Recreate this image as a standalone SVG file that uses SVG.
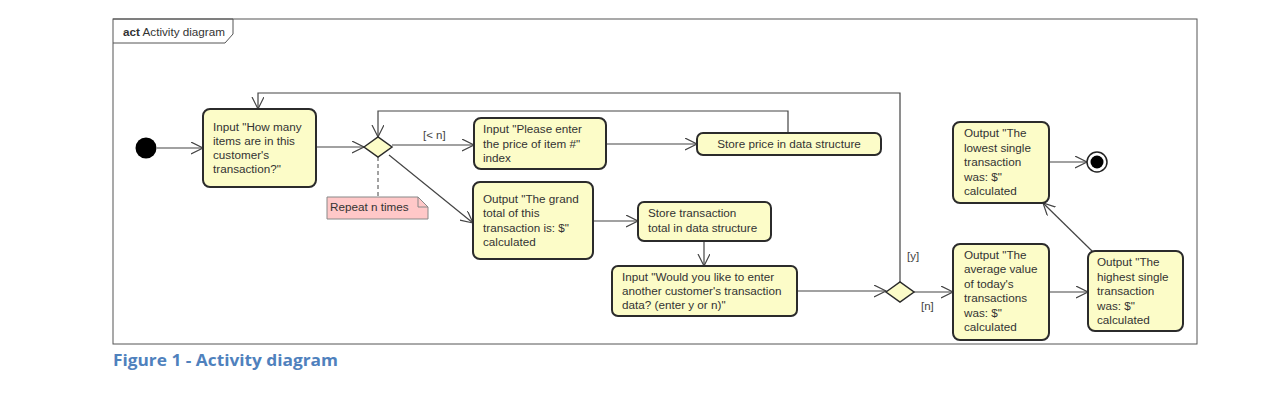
<svg xmlns="http://www.w3.org/2000/svg" width="1287" height="407" viewBox="0 0 1287 407">
<defs>
<style>
.node{fill:#fcfcc8;stroke:#2b2b2b;stroke-width:2}
.t{font-family:"Liberation Sans",Arial,sans-serif;font-size:11.7px;fill:#333}
.c{fill:none;stroke:#444;stroke-width:1.2}
.lbl{font-family:"Liberation Sans",Arial,sans-serif;font-size:11.5px;fill:#444}
</style>
<marker id="arr" markerUnits="userSpaceOnUse" markerWidth="14" markerHeight="14" refX="12" refY="6" orient="auto">
<path d="M0,0 L12,6 L0,12" fill="none" stroke="#444" stroke-width="1.2"/>
</marker>
</defs>
<rect x="0" y="0" width="1287" height="407" fill="#fff"/>
<g id="frame">
<rect x="113" y="19" width="1084" height="325" fill="none" stroke="#555" stroke-width="1"/>
<path d="M113,19 L233,19 L233,34 L225,43 L113,43" fill="none" stroke="#555" stroke-width="1"/>
<text x="123" y="36" class="t" fill="#222"><tspan font-weight="bold">act</tspan> Activity diagram</text>
</g>
<g id="connectors">
<line class="c" x1="157" y1="148" x2="203" y2="148" marker-end="url(#arr)"/>
<line class="c" x1="316" y1="147" x2="364" y2="147" marker-end="url(#arr)"/>
<line class="c" x1="392" y1="145" x2="474" y2="145" marker-end="url(#arr)"/>
<line class="c" x1="389" y1="155" x2="473" y2="223" marker-end="url(#arr)"/>
<line class="c" x1="606" y1="144" x2="697" y2="144" marker-end="url(#arr)"/>
<polyline class="c" points="788,133 788,111 378,111 378,137" marker-end="url(#arr)"/>
<line x1="378" y1="157" x2="378" y2="197" stroke="#444" stroke-width="1" stroke-dasharray="4,3"/>
<line class="c" x1="593" y1="221" x2="638" y2="221" marker-end="url(#arr)"/>
<line class="c" x1="704" y1="241" x2="704" y2="266" marker-end="url(#arr)"/>
<line class="c" x1="797" y1="291" x2="886" y2="291" marker-end="url(#arr)"/>
<polyline class="c" points="900,282 900,93 258,93 258,109" marker-end="url(#arr)"/>
<line class="c" x1="914" y1="292" x2="953" y2="292" marker-end="url(#arr)"/>
<line class="c" x1="1049" y1="292" x2="1088" y2="292" marker-end="url(#arr)"/>
<line class="c" x1="1092" y1="251" x2="1043" y2="203" marker-end="url(#arr)"/>
<line class="c" x1="1049" y1="162" x2="1087" y2="162" marker-end="url(#arr)"/>
<text class="lbl" x="423" y="139">[&lt; n]</text>
<text class="lbl" x="907" y="260" font-size="10">[y]</text>
<text class="lbl" x="921" y="310">[n]</text>
</g>
<g id="start"><circle cx="146" cy="148" r="10.5" fill="#000"/></g>
<g id="n1">
<rect class="node" x="203" y="109" width="113" height="78" rx="7"/>
<text class="t" x="213" y="131">Input "How many</text>
<text class="t" x="213" y="145">items are in this</text>
<text class="t" x="213" y="159">customer's</text>
<text class="t" x="213" y="173">transaction?"</text>
</g>
<g id="d1"><path d="M364,147 L378,137 L392,147 L378,157 Z" fill="#fcfcc8" stroke="#2b2b2b" stroke-width="1.5"/></g>
<g id="note">
<path d="M327,197 L418,197 L428,207 L428,219 L327,219 Z" fill="#ffc8c8" stroke="#888" stroke-width="1"/>
<path d="M418,197 L418,207 L428,207" fill="none" stroke="#888" stroke-width="1"/>
<text class="t" x="330" y="211">Repeat n times</text>
</g>
<g id="n2">
<rect class="node" x="474" y="118" width="132" height="51" rx="7"/>
<text class="t" x="483" y="133">Input "Please enter</text>
<text class="t" x="483" y="148">the price of item #"</text>
<text class="t" x="483" y="162">index</text>
</g>
<g id="n3">
<rect class="node" x="697" y="133" width="184" height="22" rx="6"/>
<text class="t" x="789" y="148" text-anchor="middle">Store price in data structure</text>
</g>
<g id="n4">
<rect class="node" x="473" y="182" width="120" height="77" rx="7"/>
<text class="t" x="483" y="203">Output "The grand</text>
<text class="t" x="483" y="217">total of this</text>
<text class="t" x="483" y="232">transaction is: $"</text>
<text class="t" x="483" y="246">calculated</text>
</g>
<g id="n5">
<rect class="node" x="638" y="202" width="133" height="39" rx="6"/>
<text class="t" x="648" y="217">Store transaction</text>
<text class="t" x="648" y="232">total in data structure</text>
</g>
<g id="n6">
<rect class="node" x="612" y="266" width="185" height="50" rx="6"/>
<text class="t" x="622" y="281">Input "Would you like to enter</text>
<text class="t" x="622" y="295">another customer's transaction</text>
<text class="t" x="622" y="309">data? (enter y or n)"</text>
</g>
<g id="d2"><path d="M886,292 L900,282 L914,292 L900,302 Z" fill="#fcfcc8" stroke="#2b2b2b" stroke-width="1.5"/></g>
<g id="n7">
<rect class="node" x="953" y="122" width="96" height="81" rx="7"/>
<text class="t" x="964" y="137">Output "The</text>
<text class="t" x="964" y="152">lowest single</text>
<text class="t" x="964" y="166">transaction</text>
<text class="t" x="964" y="181">was: $"</text>
<text class="t" x="964" y="195">calculated</text>
</g>
<g id="end">
<circle cx="1097" cy="162" r="10" fill="#fff" stroke="#222" stroke-width="1.5"/>
<circle cx="1097" cy="162" r="6.5" fill="#000"/>
</g>
<g id="n8">
<rect class="node" x="953" y="244" width="96" height="96" rx="7"/>
<text class="t" x="964" y="259">Output "The</text>
<text class="t" x="964" y="273">average value</text>
<text class="t" x="964" y="288">of today's</text>
<text class="t" x="964" y="302">transactions</text>
<text class="t" x="964" y="317">was: $"</text>
<text class="t" x="964" y="331">calculated</text>
</g>
<g id="n9">
<rect class="node" x="1088" y="251" width="95" height="80" rx="7"/>
<text class="t" x="1097" y="266">Output "The</text>
<text class="t" x="1097" y="281">highest single</text>
<text class="t" x="1097" y="295">transaction</text>
<text class="t" x="1097" y="310">was: $"</text>
<text class="t" x="1097" y="324">calculated</text>
</g>
<text x="113" y="366" font-family="'Open Sans','Liberation Sans',sans-serif" font-weight="bold" font-size="16" fill="#4f81bd" textLength="225" lengthAdjust="spacingAndGlyphs">Figure 1 - Activity diagram</text>
</svg>
